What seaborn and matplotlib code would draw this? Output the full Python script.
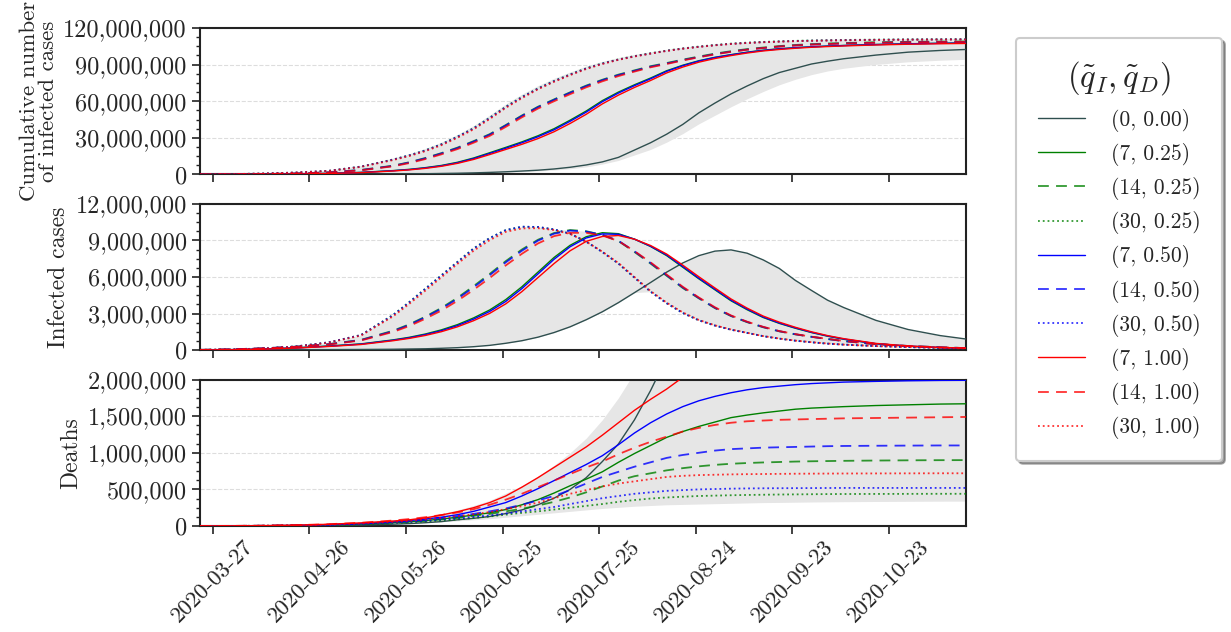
import numpy as np
import pandas as pd
import seaborn as sns
import matplotlib.pyplot as plt
from matplotlib.ticker import FuncFormatter, MultipleLocator, AutoMinorLocator
import matplotlib.dates as mdates

# sample dates: 10 days apart at the ends, 5 days apart in the middle
dates = (pd.date_range('2020-03-23', '2020-05-12', freq='10D')
         .append(pd.date_range('2020-05-22', '2020-10-09', freq='5D'))
         .append(pd.date_range('2020-10-19', '2020-11-18', freq='10D')))
tick_dates = pd.date_range('2020-03-27', periods=8, freq='30D')

labels = ['(0, 0.00)', '(7, 0.25)', '(14, 0.25)', '(30, 0.25)',
          '(7, 0.50)', '(14, 0.50)', '(30, 0.50)',
          '(7, 1.00)', '(14, 1.00)', '(30, 1.00)']
colors = ['darkslategray', 'green', 'green', 'green',
          'blue', 'blue', 'blue', 'red', 'red', 'red']
styles = ['-', '-', (0, (6, 4)), ':', '-', (0, (6, 4)), ':', '-', (0, (6, 4)), ':']

# cumulative number of infected cases (millions)
cum_0_000 = [0.0, 0.01, 0.02, 0.05, 0.1, 0.2, 0.35, 0.45, 0.6, 0.8, 1.0, 1.3, 1.7, 2.2, 2.8, 3.5, 4.5, 5.9, 7.8, 10.3, 14.0, 20.0, 26.0, 33.0, 41.0, 50.5, 58.5, 66.0, 72.5, 78.5, 83.5, 87.0, 90.5, 92.8, 94.8, 97.8, 100.2, 101.6, 102.6]
cum_7_025 = [0.0, 0.05, 0.15, 0.4, 0.9, 1.7, 3.2, 4.2, 5.6, 7.4, 10.0, 13.5, 17.8, 22.2, 26.7, 31.7, 37.5, 44.5, 52.0, 60.5, 67.5, 73.5, 79.0, 85.0, 89.5, 93.2, 96.0, 98.2, 100.2, 101.8, 103.0, 103.9, 104.6, 105.2, 105.7, 106.5, 107.1, 107.5, 107.8]
cum_14_025 = [0.03, 0.15, 0.35, 0.8, 1.7, 3.7, 7.2, 10.0, 13.5, 17.5, 22.0, 27.3, 33.0, 40.5, 48.3, 55.5, 61.5, 67.3, 72.8, 77.6, 81.8, 85.3, 88.7, 91.3, 94.1, 96.6, 99.0, 101.0, 102.7, 104.0, 105.2, 106.1, 106.8, 107.3, 107.7, 108.3, 108.7, 108.9, 109.0]
cum_30_025 = [0.05, 0.3, 0.8, 1.6, 3.0, 6.5, 12.3, 15.7, 19.8, 24.8, 31.0, 38.0, 46.5, 55.5, 63.5, 70.5, 76.6, 82.0, 87.0, 91.0, 94.3, 97.0, 99.3, 101.5, 103.3, 104.8, 106.1, 107.2, 108.0, 108.6, 109.1, 109.5, 109.8, 110.0, 110.2, 110.5, 110.7, 110.8, 110.9]
cum_7_050 = [0.0, 0.05, 0.14, 0.38, 0.85, 1.62, 3.05, 4.0, 5.35, 7.1, 9.6, 13.0, 17.2, 21.5, 26.0, 30.9, 36.6, 43.6, 51.1, 59.6, 66.7, 72.8, 78.4, 84.5, 89.1, 92.9, 95.8, 98.0, 100.0, 101.6, 102.8, 103.8, 104.5, 105.1, 105.6, 106.4, 107.0, 107.4, 107.7]
cum_14_050 = [0.03, 0.15, 0.35, 0.8, 1.7, 3.6, 7.0, 9.8, 13.2, 17.2, 21.6, 26.9, 32.6, 40.1, 47.9, 55.1, 61.1, 66.9, 72.4, 77.2, 81.4, 84.9, 88.3, 90.9, 93.7, 96.2, 98.6, 100.6, 102.3, 103.6, 104.8, 105.7, 106.4, 106.9, 107.3, 107.9, 108.3, 108.5, 108.6]
cum_30_050 = [0.05, 0.3, 0.8, 1.6, 3.0, 6.4, 12.2, 15.6, 19.6, 24.6, 30.8, 37.7, 46.2, 55.2, 63.2, 70.3, 76.4, 81.8, 86.8, 90.8, 94.1, 96.8, 99.1, 101.3, 103.1, 104.6, 105.9, 107.0, 107.8, 108.4, 108.9, 109.3, 109.6, 109.8, 110.0, 110.3, 110.5, 110.6, 110.7]
cum_7_100 = [0.0, 0.05, 0.13, 0.35, 0.8, 1.5, 2.85, 3.75, 5.0, 6.7, 9.1, 12.3, 16.3, 20.5, 24.7, 29.4, 35.0, 41.8, 49.3, 57.8, 65.0, 71.3, 77.0, 83.2, 88.0, 92.0, 95.0, 97.4, 99.5, 101.2, 102.4, 103.4, 104.2, 104.8, 105.3, 106.1, 106.7, 107.1, 107.4]
cum_14_100 = [0.03, 0.14, 0.33, 0.75, 1.6, 3.4, 6.7, 9.3, 12.6, 16.5, 20.8, 26.0, 31.6, 39.0, 46.8, 54.0, 60.0, 65.8, 71.4, 76.3, 80.6, 84.3, 87.8, 90.5, 93.4, 96.0, 98.4, 100.5, 102.2, 103.6, 104.8, 105.7, 106.4, 106.9, 107.3, 107.9, 108.3, 108.5, 108.6]
cum_30_100 = [0.05, 0.28, 0.75, 1.55, 2.9, 6.2, 11.8, 15.1, 19.1, 24.0, 30.1, 37.0, 45.4, 54.6, 62.5, 69.8, 75.9, 81.4, 86.4, 90.5, 93.9, 96.6, 99.0, 101.2, 103.0, 104.5, 105.8, 106.9, 107.7, 108.3, 108.8, 109.2, 109.5, 109.7, 109.9, 110.2, 110.4, 110.5, 110.6]
cum_band_low = [0.0, 0.0, 0.01, 0.03, 0.07, 0.15, 0.28, 0.35, 0.48, 0.62, 0.8, 1.0, 1.3, 1.7, 2.2, 2.8, 3.6, 4.7, 6.2, 8.5, 11.5, 16.0, 20.5, 26.5, 33.5, 41.5, 48.5, 55.5, 62.0, 68.0, 73.5, 78.0, 81.8, 84.8, 87.0, 90.2, 92.3, 93.6, 94.5]
cum_band_high = [0.1, 0.4, 1.0, 2.0, 3.6, 7.3, 13.4, 17.0, 21.3, 26.5, 32.8, 40.0, 48.7, 57.8, 65.8, 72.8, 78.8, 84.0, 88.8, 92.7, 95.8, 98.4, 100.5, 102.5, 104.2, 105.6, 106.9, 107.9, 108.7, 109.3, 109.8, 110.2, 110.5, 110.7, 110.9, 111.2, 111.4, 111.5, 111.6]

# infected cases (millions)
inf_0_000 = [0.01, 0.02, 0.03, 0.04, 0.05, 0.06, 0.08, 0.1, 0.12, 0.16, 0.21, 0.29, 0.4, 0.57, 0.78, 1.07, 1.45, 1.92, 2.5, 3.15, 3.9, 4.72, 5.55, 6.4, 7.15, 7.75, 8.12, 8.22, 7.95, 7.4, 6.7, 5.72, 4.9, 4.1, 3.5, 2.45, 1.7, 1.2, 0.85]
inf_7_025 = [0.02, 0.05, 0.1, 0.2, 0.35, 0.52, 0.85, 1.06, 1.33, 1.67, 2.1, 2.65, 3.3, 4.15, 5.2, 6.4, 7.6, 8.6, 9.3, 9.63, 9.55, 9.1, 8.5, 7.75, 6.8, 5.85, 4.95, 4.05, 3.32, 2.68, 2.2, 1.8, 1.45, 1.15, 0.9, 0.53, 0.33, 0.21, 0.16]
inf_14_025 = [0.03, 0.08, 0.16, 0.3, 0.5, 0.85, 1.6, 2.12, 2.75, 3.47, 4.3, 5.25, 6.25, 7.3, 8.25, 9.05, 9.6, 9.85, 9.75, 9.45, 8.95, 8.05, 7.1, 6.1, 5.1, 4.25, 3.45, 2.8, 2.3, 1.88, 1.55, 1.3, 1.1, 0.92, 0.75, 0.5, 0.35, 0.24, 0.16]
inf_30_025 = [0.03, 0.07, 0.15, 0.32, 0.65, 1.25, 2.9, 3.95, 5.05, 6.15, 7.25, 8.35, 9.2, 9.85, 10.12, 10.1, 9.9, 9.55, 8.9, 8.05, 7.1, 5.95, 4.8, 3.85, 3.05, 2.45, 2.02, 1.68, 1.42, 1.15, 0.95, 0.78, 0.65, 0.54, 0.46, 0.34, 0.26, 0.19, 0.14]
inf_7_050 = [0.02, 0.05, 0.1, 0.19, 0.33, 0.5, 0.82, 1.02, 1.28, 1.6, 2.02, 2.55, 3.18, 4.0, 5.05, 6.25, 7.45, 8.48, 9.2, 9.53, 9.5, 9.1, 8.52, 7.8, 6.86, 5.9, 5.0, 4.1, 3.37, 2.72, 2.23, 1.83, 1.47, 1.17, 0.92, 0.54, 0.34, 0.22, 0.16]
inf_14_050 = [0.03, 0.08, 0.16, 0.29, 0.49, 0.83, 1.56, 2.07, 2.7, 3.4, 4.22, 5.15, 6.15, 7.2, 8.15, 8.98, 9.55, 9.8, 9.72, 9.45, 8.97, 8.1, 7.15, 6.15, 5.15, 4.28, 3.48, 2.82, 2.32, 1.9, 1.56, 1.31, 1.1, 0.92, 0.75, 0.5, 0.35, 0.24, 0.16]
inf_30_050 = [0.03, 0.07, 0.15, 0.32, 0.65, 1.24, 2.88, 3.92, 5.02, 6.12, 7.22, 8.32, 9.18, 9.84, 10.12, 10.1, 9.9, 9.55, 8.9, 8.05, 7.1, 5.95, 4.8, 3.85, 3.05, 2.45, 2.02, 1.68, 1.42, 1.15, 0.95, 0.78, 0.65, 0.54, 0.46, 0.34, 0.26, 0.19, 0.14]
inf_7_100 = [0.02, 0.04, 0.09, 0.18, 0.31, 0.47, 0.78, 0.97, 1.21, 1.52, 1.92, 2.42, 3.02, 3.8, 4.8, 5.95, 7.1, 8.15, 8.92, 9.32, 9.4, 9.1, 8.58, 7.88, 6.97, 6.02, 5.1, 4.2, 3.45, 2.8, 2.3, 1.88, 1.51, 1.2, 0.95, 0.56, 0.35, 0.23, 0.16]
inf_14_100 = [0.03, 0.07, 0.15, 0.28, 0.47, 0.8, 1.5, 1.98, 2.58, 3.25, 4.05, 4.95, 5.92, 6.95, 7.9, 8.75, 9.35, 9.62, 9.62, 9.4, 8.95, 8.12, 7.2, 6.2, 5.2, 4.32, 3.52, 2.85, 2.34, 1.92, 1.57, 1.32, 1.11, 0.93, 0.76, 0.5, 0.35, 0.24, 0.16]
inf_30_100 = [0.03, 0.07, 0.14, 0.3, 0.62, 1.2, 2.78, 3.8, 4.88, 5.98, 7.08, 8.15, 9.02, 9.7, 9.98, 10.0, 9.85, 9.52, 8.9, 8.08, 7.15, 6.0, 4.85, 3.9, 3.1, 2.48, 2.04, 1.7, 1.43, 1.16, 0.96, 0.79, 0.66, 0.55, 0.46, 0.34, 0.26, 0.19, 0.14]

# deaths (millions)
d_0_000 = [0.0, 0.0, 0.001, 0.003, 0.007, 0.013, 0.025, 0.033, 0.045, 0.06, 0.085, 0.105, 0.13, 0.17, 0.22, 0.29, 0.38, 0.5, 0.66, 0.88, 1.12, 1.45, 1.85, 2.3, 2.75, 3.15, 3.5, 3.8, 4.05, 4.25, 4.42, 4.55, 4.67, 4.77, 4.85, 4.97, 5.05, 5.1, 5.13]
d_7_025 = [0.0, 0.001, 0.003, 0.007, 0.014, 0.027, 0.048, 0.06, 0.075, 0.095, 0.12, 0.15, 0.18, 0.225, 0.29, 0.36, 0.45, 0.55, 0.64, 0.74, 0.87, 0.99, 1.1, 1.21, 1.29, 1.36, 1.42, 1.48, 1.515, 1.545, 1.57, 1.595, 1.61, 1.62, 1.63, 1.645, 1.655, 1.665, 1.67]
d_14_025 = [0.0, 0.001, 0.003, 0.007, 0.014, 0.026, 0.045, 0.056, 0.07, 0.09, 0.11, 0.14, 0.165, 0.2, 0.235, 0.28, 0.33, 0.39, 0.46, 0.54, 0.62, 0.68, 0.72, 0.76, 0.79, 0.815, 0.835, 0.85, 0.86, 0.868, 0.874, 0.88, 0.884, 0.887, 0.89, 0.894, 0.897, 0.899, 0.9]
d_30_025 = [0.0, 0.001, 0.003, 0.007, 0.013, 0.024, 0.04, 0.05, 0.062, 0.075, 0.09, 0.11, 0.13, 0.155, 0.18, 0.2, 0.225, 0.25, 0.275, 0.3, 0.33, 0.355, 0.375, 0.39, 0.4, 0.41, 0.415, 0.42, 0.424, 0.427, 0.43, 0.432, 0.434, 0.436, 0.437, 0.438, 0.439, 0.44, 0.44]
d_7_050 = [0.0, 0.001, 0.004, 0.009, 0.018, 0.033, 0.058, 0.075, 0.095, 0.12, 0.155, 0.2, 0.26, 0.32, 0.41, 0.51, 0.62, 0.73, 0.84, 0.96, 1.11, 1.27, 1.41, 1.53, 1.63, 1.71, 1.77, 1.82, 1.86, 1.89, 1.91, 1.93, 1.945, 1.955, 1.965, 1.975, 1.983, 1.988, 1.99]
d_14_050 = [0.0, 0.001, 0.004, 0.009, 0.018, 0.032, 0.055, 0.068, 0.085, 0.11, 0.135, 0.165, 0.2, 0.24, 0.29, 0.35, 0.41, 0.49, 0.58, 0.67, 0.74, 0.81, 0.87, 0.93, 0.97, 1.0, 1.03, 1.05, 1.06, 1.07, 1.075, 1.08, 1.085, 1.09, 1.093, 1.096, 1.098, 1.1, 1.1]
d_30_050 = [0.0, 0.001, 0.003, 0.008, 0.015, 0.028, 0.047, 0.058, 0.072, 0.088, 0.105, 0.125, 0.145, 0.17, 0.2, 0.23, 0.26, 0.3, 0.34, 0.38, 0.41, 0.44, 0.46, 0.48, 0.49, 0.5, 0.505, 0.51, 0.513, 0.515, 0.516, 0.517, 0.518, 0.519, 0.52, 0.52, 0.52, 0.52, 0.52]
d_7_100 = [0.0, 0.002, 0.005, 0.012, 0.024, 0.043, 0.068, 0.085, 0.11, 0.15, 0.195, 0.25, 0.32, 0.41, 0.53, 0.66, 0.8, 0.94, 1.08, 1.24, 1.41, 1.58, 1.73, 1.87, 2.03, 2.17, 2.3, 2.4, 2.48, 2.55, 2.61, 2.66, 2.7, 2.73, 2.76, 2.79, 2.81, 2.82, 2.83]
d_14_100 = [0.0, 0.002, 0.005, 0.012, 0.025, 0.045, 0.075, 0.095, 0.12, 0.15, 0.185, 0.23, 0.29, 0.36, 0.44, 0.53, 0.62, 0.71, 0.8, 0.88, 0.98, 1.07, 1.15, 1.22, 1.29, 1.34, 1.38, 1.41, 1.43, 1.44, 1.45, 1.455, 1.46, 1.465, 1.47, 1.475, 1.48, 1.485, 1.49]
d_30_100 = [0.0, 0.001, 0.004, 0.01, 0.019, 0.034, 0.058, 0.072, 0.09, 0.11, 0.135, 0.16, 0.19, 0.23, 0.27, 0.32, 0.38, 0.44, 0.49, 0.54, 0.58, 0.61, 0.64, 0.67, 0.685, 0.695, 0.7, 0.705, 0.708, 0.71, 0.712, 0.714, 0.715, 0.716, 0.717, 0.718, 0.719, 0.72, 0.72]
d_band_low = [0.0, 0.001, 0.002, 0.005, 0.01, 0.018, 0.03, 0.037, 0.047, 0.058, 0.07, 0.085, 0.1, 0.12, 0.14, 0.16, 0.18, 0.2, 0.22, 0.24, 0.255, 0.27, 0.28, 0.29, 0.295, 0.3, 0.305, 0.31, 0.315, 0.32, 0.322, 0.325, 0.328, 0.33, 0.332, 0.335, 0.337, 0.339, 0.34]
d_band_high = [0.0, 0.002, 0.006, 0.014, 0.028, 0.05, 0.08, 0.1, 0.13, 0.17, 0.22, 0.28, 0.35, 0.45, 0.55, 0.68, 0.83, 1.0, 1.2, 1.45, 1.75, 2.1, 2.5, 2.85, 3.2, 3.5, 3.75, 3.95, 4.1, 4.25, 4.35, 4.45, 4.55, 4.6, 4.65, 4.72, 4.78, 4.82, 4.85]

cum = [cum_0_000, cum_7_025, cum_14_025, cum_30_025, cum_7_050, cum_14_050, cum_30_050, cum_7_100, cum_14_100, cum_30_100]
inf = [inf_0_000, inf_7_025, inf_14_025, inf_30_025, inf_7_050, inf_14_050, inf_30_050, inf_7_100, inf_14_100, inf_30_100]
dth = [d_0_000, d_7_025, d_14_025, d_30_025, d_7_050, d_14_050, d_30_050, d_7_100, d_14_100, d_30_100]

# middle panel band is the envelope of its curves
inf_arr = np.array(inf)
inf_band_low = inf_arr.min(axis=0)
inf_band_high = inf_arr.max(axis=0)

sns.set_style('ticks')
plt.rcParams['font.family'] = ['serif']
plt.rcParams['font.serif'] = ['cmr10']
plt.rcParams['mathtext.fontset'] = 'cm'
plt.rcParams['axes.formatter.use_mathtext'] = True

fig, axes = plt.subplots(3, 1, figsize=(12.31, 6.32), dpi=100, sharex=True)
fig.subplots_adjust(left=0.1625, right=0.7847, top=0.9557, bottom=0.1677, hspace=0.2)

panels = [
    (cum, cum_band_low, cum_band_high, 'Cumulative number\nof infected cases', 120e6, 30e6),
    (inf, inf_band_low, inf_band_high, 'Infected cases', 12e6, 3e6),
    (dth, d_band_low, d_band_high, 'Deaths', 2e6, 500e3),
]

for ax, (series, lo, hi, ylab, ymax, step) in zip(axes, panels):
    ax.fill_between(dates, np.array(lo) * 1e6, np.array(hi) * 1e6,
                    color='#e6e6e6', lw=0, zorder=1)
    for vals, c, ls in zip(series, colors, styles):
        solid = ls == '-'
        sns.lineplot(x=dates, y=np.array(vals) * 1e6, ax=ax, color=c,
                     linestyle=ls, lw=1.0 if solid else 1.3,
                     alpha=1.0 if solid else 0.8, zorder=3)
    ax.set_ylim(0, ymax)
    ax.set_xlim(pd.Timestamp('2020-03-23'), pd.Timestamp('2020-11-16'))
    ax.yaxis.set_major_locator(MultipleLocator(step))
    ax.yaxis.set_minor_locator(AutoMinorLocator(4))
    ax.yaxis.set_major_formatter(FuncFormatter(lambda v, p: f'{v:,.0f}'))
    ax.set_xlabel('')
    ax.set_ylabel(ylab, fontsize=17, linespacing=0.95)
    ax.grid(axis='y', ls='--', color='#dddddd', lw=0.8, zorder=0)
    ax.tick_params(axis='y', which='major', labelsize=17.5, length=6, width=1.2, color='#222222')
    ax.tick_params(axis='x', which='major', labelsize=16.5, length=6, width=1.2,
                   color='#222222', pad=1.5)
    ax.tick_params(axis='y', which='minor', length=3, width=1.0, color='#222222')
    for sp in ax.spines.values():
        sp.set_linewidth(1.5)
        sp.set_color('#222222')

# keep the two-line label inside the figure
axes[0].yaxis.label.set_fontsize(16.5)

axes[-1].set_xticks(tick_dates)
axes[-1].xaxis.set_major_formatter(mdates.DateFormatter('%Y-%m-%d'))
for lbl in axes[-1].get_xticklabels():
    lbl.set_rotation(45)
    lbl.set_ha('center')

handles = axes[0].get_lines()[:len(labels)]
leg = fig.legend(handles, labels, loc='upper left', bbox_to_anchor=(0.8254, 0.94),
                 borderaxespad=0, title=r'$(\tilde{q}_I, \tilde{q}_D)$',
                 title_fontsize=23.5, fontsize=15.5, frameon=True, fancybox=True,
                 shadow=True, framealpha=1, handlelength=2.2, labelspacing=0.52,
                 borderpad=1.0, handletextpad=1.2)
leg.get_frame().set_edgecolor('#cccccc')
leg.get_frame().set_linewidth(1.5)

plt.savefig('out.png', dpi=100)
